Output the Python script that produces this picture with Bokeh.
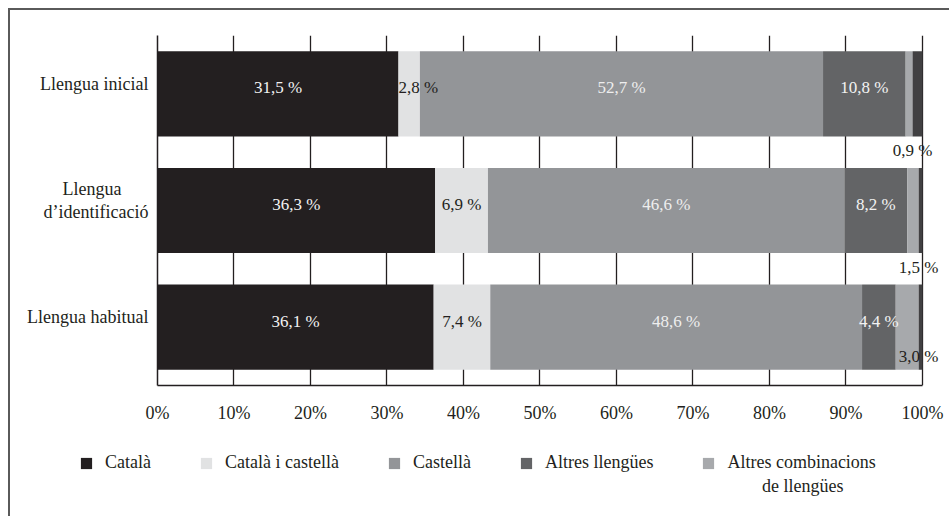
import numpy as np
from bokeh.plotting import figure
from bokeh.layouts import column
from bokeh.models import ColumnDataSource, Range1d, FixedTicker, Legend, LegendItem
from bokeh.embed import file_html
from bokeh.resources import INLINE

# ---------------- data ----------------
categories = ["Llengua inicial", "Llengua\nd’identificació", "Llengua habitual"]
series_names = ["Català", "Català i castellà", "Castellà", "Altres llengües",
                "Altres combinacions de llengües", "NS/NC"]
catala = [31.5, 36.3, 36.1]
catala_castella = [2.8, 6.9, 7.4]
castella = [52.7, 46.6, 48.6]
altres_llengues = [10.8, 8.2, 4.4]
altres_combinacions = [0.9, 1.5, 3.0]
ns_nc = [1.3, 0.5, 0.5]
tick_values = [0, 10, 20, 30, 40, 50, 60, 70, 80, 90, 100]
tick_labels = ["0%", "10%", "20%", "30%", "40%", "50%", "60%", "70%", "80%", "90%", "100%"]
legend_labels = ["Català", "Català i castellà", "Castellà", "Altres llengües",
                 "Altres combinacions"]
legend_label_line2 = "de llengües"

# ---------------- style ----------------
FONT = "Liberation Serif"
colors = ["#231f20", "#e1e2e3", "#939598", "#636466", "#a7a9ac", "#414042"]
label_colors = ["#f2f2f2", "#231f20", "#eeeeee", "#f2f2f2", "#231f20", None]
BAR_H = 0.73
PX_PER_UNIT = 350 / 3.0
small_offset = [57, 57, 29]      # px offset of the small "altres combinacions" labels
CAT_LABEL_SHIFT = -10            # px, category labels sit slightly above bar centre
CAT_LINE_H = 23                  # px between lines of a category label
W = 939
H_MAIN = 430
H_LEG = 76

values = [catala, catala_castella, castella, altres_llengues, altres_combinacions, ns_nc]
arr = np.array(values, dtype=float)
rights = np.cumsum(arr, axis=0)
lefts = rights - arr
ypos = np.arange(len(categories), dtype=float)

p = figure(width=W, height=H_MAIN, output_backend="svg", toolbar_location=None,
           x_range=Range1d(0, 103.4),
           y_range=Range1d(len(categories) - 0.5, -0.5),
           min_border_left=147, min_border_right=1, min_border_top=25, min_border_bottom=55)
p.frame_align = False
p.outline_line_color = None
p.background_fill_color = "white"
p.border_fill_color = "white"

sources, renderers = [], []
for i, name in enumerate(series_names):
    src = ColumnDataSource(dict(y=ypos, left=lefts[i], right=rights[i]))
    r = p.hbar(y="y", left="left", right="right", height=BAR_H, source=src,
               fill_color=colors[i], line_color=None)
    sources.append(src)
    renderers.append(r)

def fmt(v):
    return f"{v:.1f}".replace(".", ",") + " %"

for i in range(5):
    xs, ts, aligns, offs = [], [], [], []
    for j in range(len(categories)):
        v = values[i][j]
        if i == 4:
            xs.append(rights[i][j]); aligns.append("center"); offs.append(small_offset[j])
        elif v < 3:
            xs.append(lefts[i][j]); aligns.append("left"); offs.append(-6)
        else:
            xs.append(lefts[i][j] + v / 2); aligns.append("center"); offs.append(-6)
        ts.append(fmt(v))
    src = ColumnDataSource(dict(x=xs, y=ypos, t=ts, a=aligns, o=offs))
    p.text(x="x", y="y", text="t", source=src, text_align="a", y_offset="o",
           text_baseline="middle", text_font=FONT, text_font_size="17px",
           text_color=label_colors[i])

# ---- x axis ----
p.xaxis.ticker = FixedTicker(ticks=tick_values)
p.xaxis.bounds = (tick_values[0], tick_values[-1])
p.xaxis.major_label_overrides = {v: l for v, l in zip(tick_values, tick_labels)}
p.xaxis.major_tick_line_color = None
p.xaxis.minor_tick_line_color = None
p.xaxis.axis_line_color = "#231f20"
p.xaxis.axis_line_width = 1.5
p.xaxis.major_label_standoff = 11
p.xaxis.major_label_text_font = FONT
p.xaxis.major_label_text_font_size = "18px"
p.xaxis.major_label_text_color = "#231f20"

# ---- y axis: one tick per label line ----
y_ticks, y_overrides = [], {}
for j, cat in enumerate(categories):
    lines = cat.split("\n")
    longest = max(len(s) for s in lines)
    n = len(lines)
    for k, line in enumerate(lines):
        pos = round(ypos[j] + (CAT_LABEL_SHIFT + (k - (n - 1) / 2) * CAT_LINE_H) / PX_PER_UNIT, 4)
        pad = int(round((longest - len(line)) * 0.75)) if n > 1 else 0
        y_ticks.append(pos)
        y_overrides[pos] = line + "\u00a0" * pad
p.yaxis.ticker = FixedTicker(ticks=y_ticks)
p.yaxis.major_label_overrides = y_overrides
p.yaxis.major_tick_line_color = None
p.yaxis.minor_tick_line_color = None
p.yaxis.axis_line_color = "#231f20"
p.yaxis.axis_line_width = 1.5
p.yaxis.major_label_standoff = 3
p.yaxis.major_label_text_font = FONT
p.yaxis.major_label_text_font_size = "18px"
p.yaxis.major_label_text_color = "#231f20"

p.xgrid.ticker = FixedTicker(ticks=tick_values)
p.xgrid.grid_line_color = "#231f20"
p.xgrid.grid_line_width = 1.3
p.ygrid.grid_line_color = None

# ---- legend panel (its own figure; bars kept out of its view) ----
q = figure(width=W, height=H_LEG, output_backend="svg", toolbar_location=None,
           x_axis_location=None, y_axis_location=None,
           x_range=Range1d(0, 1), y_range=Range1d(10, 11),
           min_border_left=0, min_border_right=0, min_border_top=0, min_border_bottom=0)
q.frame_align = False
q.grid.grid_line_color = None
q.outline_line_color = None
q.border_fill_color = "white"
q.background_fill_color = "white"
leg_r = [q.hbar(y="y", left="left", right="right", height=BAR_H, source=sources[i],
                fill_color=colors[i], line_color=None) for i in range(5)]
# transparent glyph for the second line of the last legend label
blank_r = q.hbar(y="y", left="left", right="right", height=BAR_H, source=sources[4],
                 fill_alpha=0, line_alpha=0)

common = dict(orientation="horizontal", padding=0, margin=0, border_line_color=None,
              background_fill_alpha=0, label_text_font=FONT, label_text_font_size="18px",
              label_text_color="#231f20", label_height=14,
              glyph_width=14, glyph_height=14, label_standoff=12)
legend = Legend(items=[LegendItem(label=legend_labels[i], renderers=[leg_r[i]]) for i in range(5)],
                location=(69, 43), spacing=48, **common)
q.add_layout(legend, "center")
legend2 = Legend(items=[LegendItem(label=legend_label_line2, renderers=[blank_r])],
                 location=(726, 19), spacing=0, **common)
q.add_layout(legend2, "center")

layout = column(p, q, spacing=0,
                styles={"margin-left": "8px", "margin-top": "8px",
                        "border-left": "2px solid #5a5a5a", "border-top": "2px solid #5a5a5a"})

open("out.html", "w").write(file_html(layout, INLINE))
